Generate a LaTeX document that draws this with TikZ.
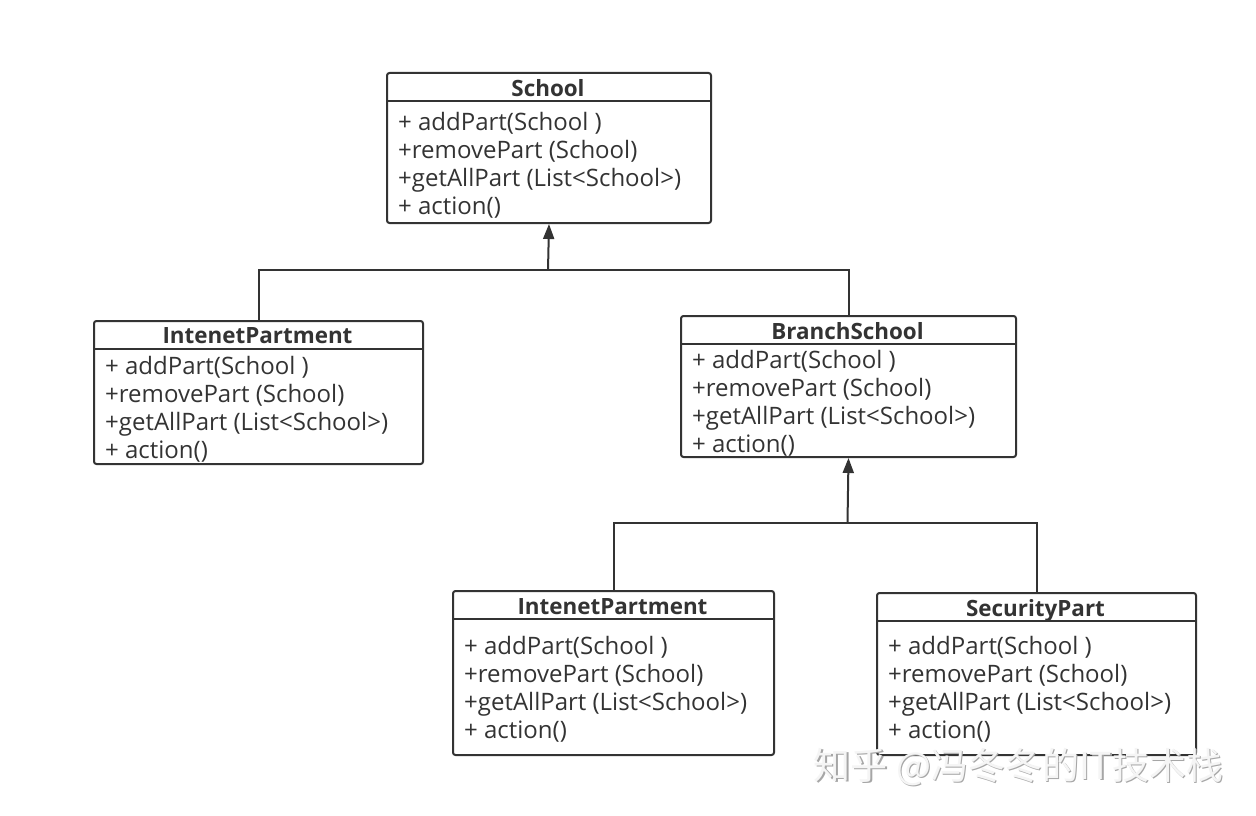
\documentclass[tikz,border=0pt]{standalone}
\usepackage{fontspec}
\setmainfont{Open Sans}
\newfontfamily\cjkfont{Noto Sans CJK SC}
\usetikzlibrary{arrows.meta}
\definecolor{ink}{HTML}{333333}
\tikzset{
  umlbox/.style={draw=ink, line width=2pt, rounded corners=2.5pt, inner sep=0pt, anchor=north west},
  classtitle/.style={font=\fontsize{22.4}{24}\selectfont\bfseries, text=ink, anchor=base, inner sep=0pt},
  meth/.style={font=\fontsize{24}{28}\selectfont, text=ink, anchor=base west, inner sep=0pt},
  divider/.style={draw=ink, line width=2pt},
  conn/.style={draw=ink, line width=2pt},
  gen/.style={draw=ink, line width=2pt, -{Triangle[length=15pt,width=11pt]}},
}
\begin{document}
\begin{tikzpicture}[x=1pt,y=-1pt]
\useasboundingbox[fill=white] (0,0) rectangle (1256,816);
% School
\node[umlbox, minimum width=324pt, minimum height=150pt] (school) at (386,72) {};
\node[classtitle] (schoolT) at (548,96) {School};
\draw[divider] (386,101) -- (710,101);
\node[meth] (schoolA) at (398,130) {+ addPart(School )};
\node[meth] (schoolB) at (398,158) {+removePart (School)};
\node[meth] (schoolC) at (398,186) {+getAllPart (List<School>)};
\node[meth] (schoolD) at (398,214) {+ action()};
% IntenetPartment (left)
\node[umlbox, minimum width=329pt, minimum height=143pt] (intA) at (93,320) {};
\node[classtitle] (intAT) at (257.5,343) {IntenetPartment};
\draw[divider] (93,349) -- (422,349);
\node[meth] (intAa) at (105,374) {+ addPart(School )};
\node[meth] (intAb) at (105,402) {+removePart (School)};
\node[meth] (intAc) at (105,430) {+getAllPart (List<School>)};
\node[meth] (intAd) at (105,458) {+ action()};
% BranchSchool
\node[umlbox, minimum width=335pt, minimum height=141pt] (branch) at (680,315) {};
\node[classtitle] (branchT) at (847.5,339) {BranchSchool};
\draw[divider] (680,344) -- (1015,344);
\node[meth] (branchA) at (692,368) {+ addPart(School )};
\node[meth] (branchB) at (692,396) {+removePart (School)};
\node[meth] (branchC) at (692,424) {+getAllPart (List<School>)};
\node[meth] (branchD) at (692,452) {+ action()};
% IntenetPartment (bottom)
\node[umlbox, minimum width=321pt, minimum height=164pt] (intB) at (452,590) {};
\node[classtitle] (intBT) at (612.5,614) {IntenetPartment};
\draw[divider] (452,619) -- (773,619);
\node[meth] (intBa) at (464,654) {+ addPart(School )};
\node[meth] (intBb) at (464,682) {+removePart (School)};
\node[meth] (intBc) at (464,710) {+getAllPart (List<School>)};
\node[meth] (intBd) at (464,738) {+ action()};
% SecurityPart
\node[umlbox, minimum width=319pt, minimum height=162pt] (sec) at (876,592) {};
\node[classtitle] (secT) at (1035.5,616) {SecurityPart};
\draw[divider] (876,621) -- (1195,621);
\node[meth] (secA) at (888,654) {+ addPart(School )};
\node[meth] (secB) at (888,682) {+removePart (School)};
\node[meth] (secC) at (888,710) {+getAllPart (List<School>)};
\node[meth] (secD) at (888,738) {+ action()};
% connectors
\coordinate (jA) at (548,270);
\coordinate (jB) at (847.5,523);
\draw[conn] (intA.north) |- (jA);
\draw[conn] (branch.north) |- (jA);
\draw[gen] (jA) -- (school.south);
\draw[conn] (intB.north) |- (jB);
\draw[conn] (sec.north) |- (jB);
\draw[gen] (jB) -- (branch.south);
% watermark
\node[font=\cjkfont\fontsize{37}{40}\selectfont, text=gray!70, anchor=center] (wms) at (1020,768.5) {知乎 @冯冬冬的IT技术栈};
\node[font=\cjkfont\fontsize{37}{40}\selectfont, text=gray!8, anchor=center] (wm) at (1018.5,767) {知乎 @冯冬冬的IT技术栈};
\end{tikzpicture}
\end{document}
